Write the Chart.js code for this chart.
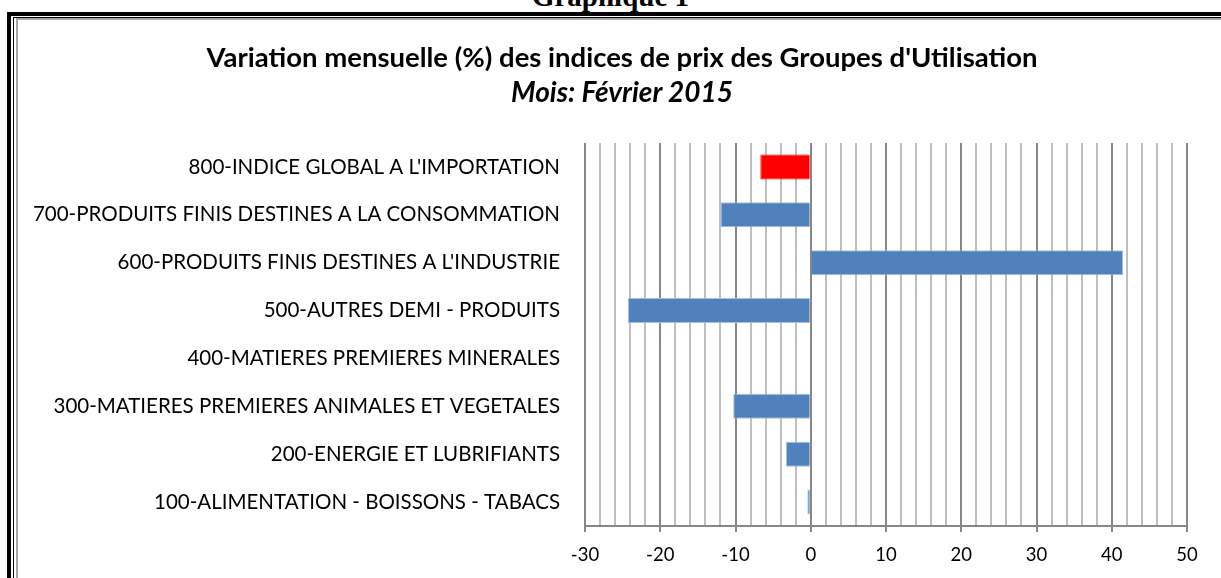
<!DOCTYPE html>
<html>
<head>
<meta charset="utf-8">
<script src="https://cdn.jsdelivr.net/npm/chart.js@4.4.1/dist/chart.umd.min.js"></script>
<style>
    html, body { margin: 0; padding: 0; background: #fff; }
    body { width: 1221px; height: 578px; position: relative; overflow: hidden; }
    #heading {
        position: absolute; left: 0; width: 1221px; top: -18px;
        text-align: center; font-family: 'Liberation Serif', serif;
        font-weight: bold; font-size: 29px; line-height: 29px; color: #000;
    }
    /* titre du graphique, centré sur x = 622 */
    .chartTitle {
        position: absolute; left: 0; width: 1244px; text-align: center;
        font-family: 'Lato', sans-serif; font-weight: bold; color: #000; white-space: nowrap;
    }
    #title { top: 39.5px; font-size: 27.5px; line-height: 33px; }
    #subtitle { top: 75px; font-size: 28px; line-height: 33.6px; font-style: italic; }
    .frame { position: absolute; right: -20px; bottom: -20px; pointer-events: none; }
    #frame1 { left: 7px; top: 12px; border-top: 4px solid #000; border-left: 4px solid #000; }
    #frame2 { left: 13px; top: 17px; border-top: 1px solid #000; border-left: 1px solid #000; }
    #frame3 { left: 16px; top: 18px; border-top: 2px solid #a6a6a6; border-left: 2px solid #a6a6a6; }
    canvas#usageChart { position: absolute; left: 0; top: 0; }
</style>
</head>
<body>
<div id="heading">Graphique 1</div>
<canvas id="usageChart"></canvas>
<div class="chartTitle" id="title">Variation mensuelle (%) des indices de prix des Groupes d'Utilisation</div>
<div class="chartTitle" id="subtitle">Mois: Février 2015</div>
<div class="frame" id="frame1"></div>
<div class="frame" id="frame2"></div>
<div class="frame" id="frame3"></div>
<script>
// Groupes d'utilisation (haut -> bas)
const categories = [
    "800-INDICE GLOBAL A L'IMPORTATION",
    "700-PRODUITS FINIS DESTINES A LA CONSOMMATION",
    "600-PRODUITS FINIS DESTINES A L'INDUSTRIE",
    "500-AUTRES DEMI - PRODUITS",
    "400-MATIERES PREMIERES MINERALES",
    "300-MATIERES PREMIERES ANIMALES ET VEGETALES",
    "200-ENERGIE ET LUBRIFIANTS",
    "100-ALIMENTATION - BOISSONS - TABACS"
];

// Variation mensuelle (%) - Février 2015
const variations = [-6.7, -12.0, 41.5, -24.3, 0, -10.3, -3.3, -0.45];

// libellés de l'axe horizontal
const xTickLabels = [-30, -20, -10, 0, 10, 20, 30, 40, 50];

const highlighted = "800-INDICE GLOBAL A L'IMPORTATION";

document.addEventListener('DOMContentLoaded', () => {
    const canvas = document.querySelector('canvas#usageChart');
    canvas.style.width = '1221px';
    canvas.style.height = '578px';
    canvas.width = 1221;
    canvas.height = 578;

    const font = 'Lato';
    const isMajor = v => v % 10 === 0;

    new Chart(canvas, {
        type: 'bar',
        data: {
            labels: categories,
            datasets: [{
                label: 'Variation mensuelle (%)',
                data: variations,
                backgroundColor: ctx => categories[ctx.dataIndex] === highlighted ? '#FF0000' : '#4F81BD',
                borderColor: ctx => categories[ctx.dataIndex] === highlighted ? '#FF0000' : '#A3BEE0',
                borderWidth: 1,
                barPercentage: 0.52,
                categoryPercentage: 1
            }]
        },
        options: {
            indexAxis: 'y',
            responsive: false,
            maintainAspectRatio: false,
            animation: false,
            layout: { padding: { left: 0, right: 34, top: 143, bottom: 0 } },
            plugins: {
                legend: { display: false },
                tooltip: { enabled: false },
                title: { display: false }
            },
            scales: {
                x: {
                    min: -30,
                    max: 50,
                    ticks: {
                        stepSize: 2,
                        autoSkip: false,
                        maxRotation: 0,
                        color: '#000',
                        font: { family: font, size: 18.5 },
                        padding: 12,
                        callback: v => xTickLabels.includes(v) ? String(v) : ''
                    },
                    grid: {
                        color: ctx => ctx.tick && isMajor(ctx.tick.value) ? '#878787' : '#BEBEBE',
                        tickColor: ctx => ctx.tick && isMajor(ctx.tick.value) ? '#878787' : 'rgba(0,0,0,0)',
                        tickLength: 6,
                        lineWidth: 2
                    },
                    border: { color: '#878787', width: 2 },
                    afterFit: s => { s.height = 52; }
                },
                y: {
                    grid: { display: false, drawTicks: false },
                    border: { display: false },
                    ticks: {
                        color: '#000',
                        font: { family: font, size: 20.5 },
                        padding: 25
                    },
                    afterFit: s => { s.width = 585; }
                }
            }
        }
    });
});
</script>
</body>
</html>
